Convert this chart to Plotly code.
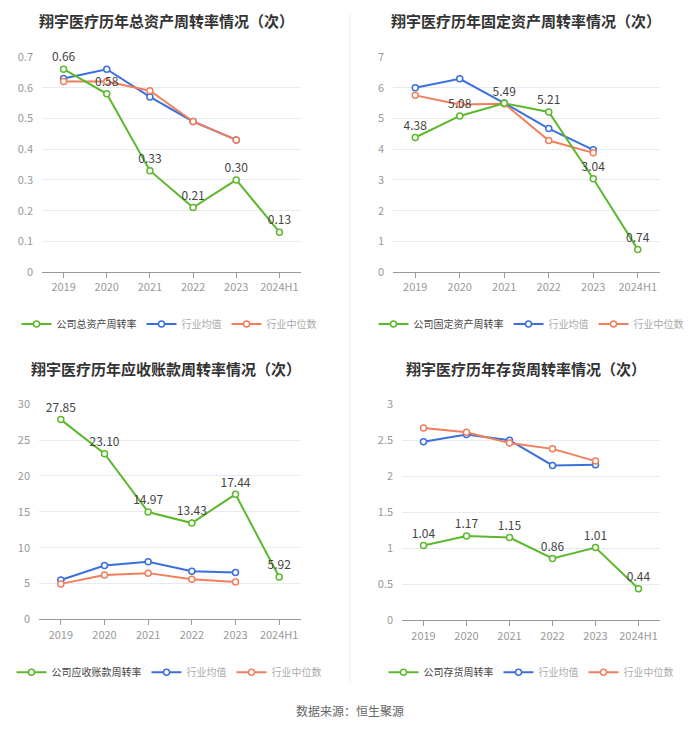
import plotly.graph_objects as go

years = ["2019", "2020", "2021", "2022", "2023", "2024H1"]
years_ind = ["2019", "2020", "2021", "2022", "2023"]

# Chart 1: total asset turnover
ta_company = [0.66, 0.58, 0.33, 0.21, 0.30, 0.13]
ta_avg = [0.63, 0.66, 0.57, 0.49, 0.43]
ta_med = [0.62, 0.62, 0.59, 0.49, 0.43]

# Chart 2: fixed asset turnover
fa_company = [4.38, 5.08, 5.49, 5.21, 3.04, 0.74]
fa_avg = [6.00, 6.29, 5.50, 4.67, 3.98]
fa_med = [5.75, 5.45, 5.48, 4.28, 3.88]

# Chart 3: receivables turnover
ar_company = [27.85, 23.10, 14.97, 13.43, 17.44, 5.92]
ar_avg = [5.50, 7.50, 8.05, 6.70, 6.55]
ar_med = [4.95, 6.20, 6.45, 5.60, 5.20]

# Chart 4: inventory turnover
inv_company = [1.04, 1.17, 1.15, 0.86, 1.01, 0.44]
inv_avg = [2.48, 2.58, 2.50, 2.15, 2.16]
inv_med = [2.67, 2.61, 2.46, 2.38, 2.21]

titles = ["翔宇医疗历年总资产周转率情况（次）", "翔宇医疗历年固定资产周转率情况（次）",
          "翔宇医疗历年应收账款周转率情况（次）", "翔宇医疗历年存货周转率情况（次）"]
company_names = ["公司总资产周转率", "公司固定资产周转率", "公司应收账款周转率", "公司存货周转率"]
y_ranges = [[0, 0.7], [0, 7], [0, 30], [0, 3]]
y_dticks = [0.1, 1, 5, 0.5]

FONT = "Noto Sans CJK SC"
W, H = 700, 734
GREEN = "#5cb82c"
BLUE = "#3a6fdc"
ORANGE = "#f27e5c"

def px_x(v):
    return v / W

def px_y(v):
    return 1 - v / H

# [x0, x1, ytop, ybottom] in screen px
panels = [
    (42, 301, 49, 269),
    (393, 660, 49, 269),
    (39, 301, 404, 624),
    (402, 660, 404, 625),
]
title_pos = [(166, 12), (526, 12), (166, 367), (526, 367)]
legend_pos = [(169, 322), (531, 322), (169, 678), (531, 678)]

datasets = [
    (ta_company, ta_avg, ta_med),
    (fa_company, fa_avg, fa_med),
    (ar_company, ar_avg, ar_med),
    (inv_company, inv_avg, inv_med),
]

traces = []
layout = {}
annotations = []

for i, (comp, avg, med) in enumerate(datasets):
    n = i + 1
    xa = "x" if n == 1 else f"x{n}"
    ya = "y" if n == 1 else f"y{n}"
    lg = "legend" if n == 1 else f"legend{n}"
    traces.append(go.Scatter(
        x=years_ind, y=avg, mode="lines+markers",
        name="<span style='color:#aaa'>行业均值</span>", legendrank=2,
        line=dict(color=BLUE, width=2),
        marker=dict(symbol="circle", size=6, color="white", line=dict(color=BLUE, width=1.5)),
        xaxis=xa, yaxis=ya, legend=lg, cliponaxis=False))
    traces.append(go.Scatter(
        x=years_ind, y=med, mode="lines+markers",
        name="<span style='color:#aaa'>行业中位数</span>", legendrank=3,
        line=dict(color=ORANGE, width=2),
        marker=dict(symbol="circle", size=6, color="white", line=dict(color=ORANGE, width=1.5)),
        xaxis=xa, yaxis=ya, legend=lg, cliponaxis=False))
    traces.append(go.Scatter(
        x=years, y=comp, mode="lines+markers+text", name=company_names[i], legendrank=1,
        text=[f"{v:.2f}" for v in comp], textposition="top center",
        textfont=dict(size=12, color="#444", family=FONT),
        line=dict(color=GREEN, width=2),
        marker=dict(symbol="circle", size=6, color="white", line=dict(color=GREEN, width=1.5)),
        xaxis=xa, yaxis=ya, legend=lg, cliponaxis=False))
    x0, x1, yt, yb = panels[i]
    xkey = "xaxis" if n == 1 else f"xaxis{n}"
    ykey = "yaxis" if n == 1 else f"yaxis{n}"
    layout[xkey] = dict(
        domain=[px_x(x0), px_x(x1)], anchor=ya, type="category",
        categoryorder="array", categoryarray=years,
        range=[-0.5, 5.5], showgrid=False, showline=True, linecolor="#999", linewidth=1,
        ticks="outside", ticklen=5, tickcolor="#999",
        tickfont=dict(size=11, color="#999", family=FONT), fixedrange=True)
    layout[ykey] = dict(
        domain=[px_y(yb), px_y(yt)], anchor=xa, range=y_ranges[i], dtick=y_dticks[i],
        showgrid=True, gridcolor="#e6eaf2", gridwidth=1, zeroline=False, showline=False,
        tickfont=dict(size=11, color="#999", family=FONT), ticks="", ticklabelstandoff=8)
    lx, ly = legend_pos[i]
    layout[lg] = dict(
        x=px_x(lx), y=px_y(ly), xanchor="center", yanchor="middle", orientation="h",
        font=dict(size=10, color="#444", family=FONT), bgcolor="rgba(0,0,0,0)",
        itemwidth=30, tracegroupgap=0, traceorder="normal")
    tx, ty = title_pos[i]
    annotations.append(dict(
        text=f"<b>{titles[i]}</b>", x=px_x(tx), y=px_y(ty), xref="paper", yref="paper",
        xanchor="center", yanchor="middle", showarrow=False,
        font=dict(size=15, color="#333", family=FONT)))

annotations.append(dict(
    text="数据来源：恒生聚源", x=px_x(350), y=px_y(717), xref="paper", yref="paper",
    xanchor="center", yanchor="middle", showarrow=False,
    font=dict(size=12, color="#666", family=FONT)))

fig = go.Figure(data=traces)
fig.update_layout(
    width=W, height=H, margin=dict(l=0, r=0, t=0, b=0),
    paper_bgcolor="white", plot_bgcolor="white",
    font=dict(family=FONT),
    annotations=annotations,
    shapes=[dict(type="line", xref="paper", yref="paper", x0=px_x(350), x1=px_x(350),
                 y0=px_y(690), y1=px_y(5), line=dict(color="#eeeeee", width=1))],
    **layout)

fig.write_html("out.html", config={"displayModeBar": False},
               post_script="document.body.style.margin='0';")
